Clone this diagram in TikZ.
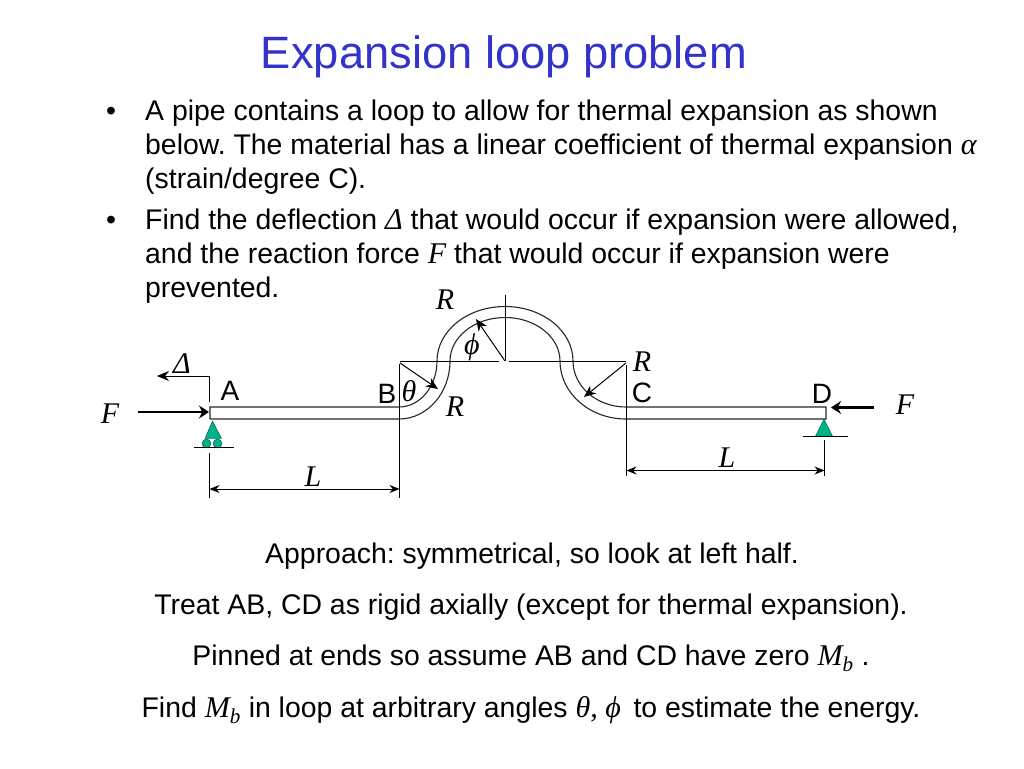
\documentclass[tikz,border=0pt]{standalone}
\usepackage{fontspec}
\setmainfont{Liberation Sans}
\newfontfamily\mathserif[Scale=1.06,ItalicFont={Liberation Serif Italic}]{Liberation Serif}
\newcommand{\mv}[1]{{\mathserif\itshape #1}}
\usetikzlibrary{arrows.meta}
\definecolor{titleblue}{RGB}{51,51,204}
\definecolor{supportgreen}{RGB}{0,178,136}
\frenchspacing
\tikzset{
  x=1pt,y=-1pt,
  titletext/.style={anchor=base,inner sep=0pt,text=titleblue,font=\fontsize{45.3}{45}\selectfont},
  bodytext/.style={anchor=base west,inner sep=0pt,font=\fontsize{28.4}{28}\selectfont},
  centertext/.style={anchor=base,inner sep=0pt,font=\fontsize{28.4}{28}\selectfont},
  pointtext/.style={anchor=base,inner sep=0pt,font=\fontsize{28}{28}\selectfont},
  symboltext/.style={anchor=base,inner sep=0pt,font=\fontsize{28.3}{28}\selectfont},
  thin line/.style={draw=black,line width=1pt},
  pipe/.style={draw=black!85,line width=1.1pt},
  arrowline/.style={thin line,-{Stealth[length=12pt,width=10pt]}},
  dimline/.style={thin line,{Stealth[length=10pt,width=8pt]}-{Stealth[length=10pt,width=8pt]}},
  force/.style={draw=black,line width=2.8pt,-{Stealth[length=10pt,width=13pt]}},
  support/.style={draw=black!60!supportgreen,line width=0.4pt,fill=supportgreen},
}
\begin{document}
\begin{tikzpicture}
\useasboundingbox (0,0) rectangle (1024,768);
\node[titletext] (title) at (504,68) {Expansion loop problem};
\node[bodytext] (b1) at (106,120) {•};
\node[bodytext] (l1) at (145,120) {A pipe contains a loop to allow for thermal expansion as shown};
\node[bodytext] (l2) at (145,154) {below. The material has a linear coefficient of thermal expansion \mv{α}};
\node[bodytext] (l3) at (145,188) {(strain/degree C).};
\node[bodytext] (b2) at (106,229) {•};
\node[bodytext] (l4) at (145,229) {Find the deflection \mv{Δ} that would occur if expansion were allowed,};
\node[bodytext] (l5) at (145,263) {and the reaction force \mv{F} that would occur if expansion were};
\node[bodytext] (l6) at (145,297) {prevented.};
\node[centertext] (c1) at (532,563) {Approach: symmetrical, so look at left half.};
\node[centertext] (c2) at (531,614) {Treat AB, CD as rigid axially (except for thermal expansion).};
\node[centertext] (c3) at (531,665) {Pinned at ends so assume AB and CD have zero \mv{M\textsubscript{b}} .};
\node[centertext] (c4) at (531,717) {Find \mv{M\textsubscript{b}} in loop at arbitrary angles \mv{θ, ϕ}\, to estimate the energy.};
% key points
\coordinate (Atop) at (210,407); \coordinate (Abot) at (210,419);
\coordinate (Btop) at (399,407); \coordinate (Bbot) at (399,419);
\coordinate (Ctop) at (626,407); \coordinate (Cbot) at (626,419);
\coordinate (Dtop) at (826,407); \coordinate (Dbot) at (826,419);
% pipe
\draw[pipe] (Abot) -- (Atop) -- (Btop) arc[start angle=-90,end angle=0,x radius=38pt,y radius=46pt]
  arc[start angle=180,end angle=0,x radius=68pt,y radius=54.5pt];
\draw[pipe] (573,361) arc[start angle=180,end angle=270,x radius=53pt,y radius=46pt] -- (Dtop) -- (Dbot) -- (Cbot)
  arc[start angle=270,end angle=180,x radius=66pt,y radius=58pt]
  arc[start angle=0,end angle=180,x radius=55pt,y radius=43.5pt]
  arc[start angle=0,end angle=-90,x radius=51pt,y radius=58pt] -- (Abot);
% construction lines
\coordinate (topL1) at (400,361); \coordinate (topL2) at (499,361);
\coordinate (topR1) at (509,361); \coordinate (topR2) at (626,361);
\draw[thin line] (topL1) -- (topL2);
\draw[thin line] (topR1) -- (topR2);
\coordinate (vtop) at (505,295);
\coordinate (vbot) at (505,361);
\draw[thin line] (vtop) -- (vbot);
\coordinate (Bdimtop) at (399.5,364); \coordinate (Bdimbot) at (399.5,498);
\draw[thin line] (Bdimtop) -- (Bdimbot);
\coordinate (Cdimtop) at (626.5,365); \coordinate (Cdimbot) at (626.5,476);
\draw[thin line] (Cdimtop) -- (Cdimbot);
% radius arrows
\coordinate (phiTail) at (505,361); \coordinate (phiTip) at (476,319);
\draw[arrowline] (phiTail) -- (phiTip);
\coordinate (thTail) at (400,363); \coordinate (thTip) at (438,389);
\draw[arrowline] (thTail) -- (thTip);
\coordinate (rTail) at (626,363); \coordinate (rTip) at (584,397);
\draw[arrowline] (rTail) -- (rTip);
% left end
\coordinate (delTop) at (209.5,376); \coordinate (delBot) at (209.5,402); \coordinate (delTip) at (157,376);
\draw[thin line] (delBot) -- (delTop);
\draw[arrowline] (delTop) -- (delTip);
\coordinate (fLt) at (138,412); \coordinate (fLh) at (209,412);
\draw[force] (fLt) -- (fLh);
\draw[support] (212.5,421) -- (221.5,438.5) -- (205,438.5) -- cycle;
\node[support,circle,minimum size=9pt,inner sep=0pt] (r1) at (206.5,443.5) {};
\node[support,circle,minimum size=9pt,inner sep=0pt] (r2) at (217.5,443.5) {};
\coordinate (gL1) at (194,447.5); \coordinate (gL2) at (234,447.5);
\draw[thin line] (gL1) -- (gL2);
\coordinate (aV1) at (209.5,453); \coordinate (aV2) at (209.5,498);
\draw[thin line] (aV1) -- (aV2);
\coordinate (dL1) at (209.5,489); \coordinate (dL2) at (399.5,489);
\draw[dimline] (dL1) -- (dL2);
% right end
\coordinate (fRt) at (874,407.5); \coordinate (fRh) at (831,407.5);
\draw[force] (fRt) -- (fRh);
\draw[support] (824,419) -- (832.5,436) -- (815.5,436) -- cycle;
\coordinate (gR1) at (803,436); \coordinate (gR2) at (848,436);
\draw[thin line] (gR1) -- (gR2);
\coordinate (dV1) at (824.5,440); \coordinate (dV2) at (824.5,476);
\draw[thin line] (dV1) -- (dV2);
\coordinate (dR1) at (626.5,470.5); \coordinate (dR2) at (824.5,470.5);
\draw[dimline] (dR1) -- (dR2);
% labels
\node[pointtext] (A) at (230,400) {A};
\node[pointtext] (B) at (387,403) {B};
\node[pointtext] (C) at (642,402) {C};
\node[pointtext] (D) at (822,403) {D};
\node[symboltext] (Rtop) at (445,309) {\mv{R}};
\node[symboltext] (Rleft) at (455,416) {\mv{R}};
\node[symboltext] (Rright) at (642,371) {\mv{R}};
\node[symboltext] (phi) at (472,354) {\mv{ϕ}};
\node[symboltext] (theta) at (409,401) {\mv{θ}};
\node[symboltext] (delta) at (182,373) {\mv{Δ}};
\node[symboltext] (Fl) at (110,423) {\mv{F}};
\node[symboltext] (Fr) at (905,414) {\mv{F}};
\node[symboltext] (L1) at (313,486) {\mv{L}};
\node[symboltext] (L2) at (727,467) {\mv{L}};
\end{tikzpicture}
\end{document}
